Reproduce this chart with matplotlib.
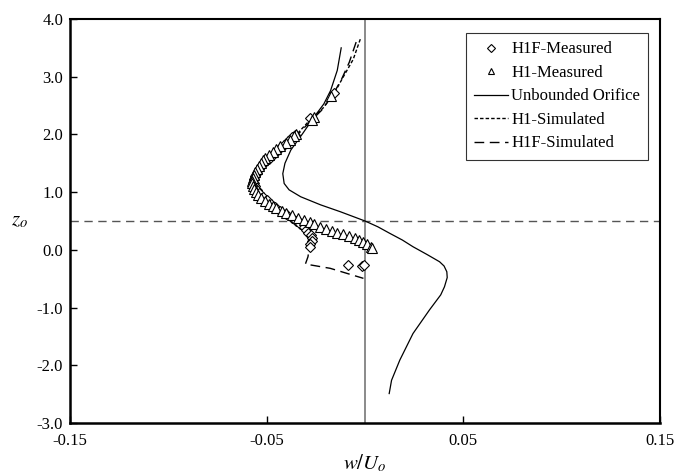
import matplotlib
matplotlib.use("Agg")
import matplotlib.pyplot as plt
from matplotlib.lines import Line2D

plt.rcParams['font.family'] = ['Liberation Serif', 'DejaVu Serif']
plt.rcParams['mathtext.fontset'] = 'stix'

# ---------------- data ----------------
# H1F-Measured (diamonds)
h1f_meas_x = [-0.0157, -0.028, -0.0354, -0.037, -0.039, -0.041, -0.043, -0.045, -0.047,
              -0.049, -0.051, -0.053, -0.054, -0.055, -0.056, -0.0565, -0.0565, -0.056,
              -0.055, -0.054, -0.052, -0.050, -0.048, -0.046, -0.043, -0.040, -0.037,
              -0.035, -0.033, -0.031, -0.030, -0.029, -0.0275, -0.027, -0.027, -0.028,
              -0.028, -0.0084, -0.0017, -0.0005]
h1f_meas_z = [2.71, 2.28, 1.99, 1.95, 1.88, 1.82, 1.76, 1.70, 1.64,
              1.58, 1.52, 1.46, 1.40, 1.34, 1.28, 1.22, 1.16, 1.10,
              1.04, 0.98, 0.92, 0.86, 0.80, 0.74, 0.68, 0.62, 0.56,
              0.50, 0.45, 0.40, 0.35, 0.30, 0.25, 0.20, 0.15, 0.10,
              0.05, -0.26, -0.28, -0.27]

# H1-Measured (triangles)
h1_meas_x = [-0.0175, -0.026, -0.027, -0.035, -0.036, -0.038, -0.040, -0.043, -0.045,
             -0.047, -0.049, -0.051, -0.052, -0.053, -0.054, -0.055, -0.056, -0.0565,
             -0.057, -0.0572, -0.0572, -0.057, -0.0565, -0.0555, -0.0545, -0.053,
             -0.051, -0.049, -0.047, -0.045, -0.042, -0.040, -0.037, -0.034, -0.031,
             -0.028, -0.026, -0.023, -0.020, -0.017, -0.014, -0.011, -0.008, -0.005,
             -0.003, -0.001, 0.001, 0.003, 0.0035]
h1_meas_z = [2.66, 2.31, 2.25, 2.00, 1.97, 1.90, 1.85, 1.80, 1.75,
             1.70, 1.65, 1.60, 1.55, 1.50, 1.45, 1.40, 1.35, 1.30,
             1.25, 1.20, 1.15, 1.10, 1.05, 1.00, 0.95, 0.90,
             0.85, 0.80, 0.76, 0.72, 0.68, 0.64, 0.60, 0.56, 0.52,
             0.48, 0.44, 0.40, 0.36, 0.33, 0.30, 0.27, 0.24, 0.20,
             0.17, 0.14, 0.10, 0.05, 0.03]

# Unbounded Orifice (solid)
unb_x = [-0.0121, -0.0141, -0.0175, -0.0209, -0.0259, -0.0318, -0.0377, -0.0407,
         -0.0418, -0.0411, -0.0386, -0.0327, -0.0226, -0.0125, 0.0, 0.0065, 0.0126,
         0.0190, 0.0244, 0.0315, 0.0379, 0.0402, 0.0416, 0.0418, 0.0404, 0.0385,
         0.0328, 0.0244, 0.0177, 0.0135, 0.0123]
unb_z = [3.50, 3.11, 2.76, 2.53, 2.30, 2.01, 1.73, 1.50,
         1.32, 1.15, 1.04, 0.92, 0.78, 0.66, 0.50, 0.40, 0.286,
         0.17, 0.054, -0.08, -0.206, -0.28, -0.38, -0.48, -0.64, -0.78,
         -1.04, -1.45, -1.91, -2.26, -2.49]

# H1-Simulated (short dashes)
h1_sim_x = [-0.0024, -0.006, -0.011, -0.0157, -0.0215, -0.028, -0.035, -0.042, -0.049,
            -0.054, -0.057, -0.056, -0.052, -0.045, -0.036, -0.028, -0.020, -0.012,
            -0.005, 0.0, 0.002]
h1_sim_z = [3.65, 3.30, 3.00, 2.71, 2.45, 2.25, 1.99, 1.78, 1.58,
            1.40, 1.20, 1.00, 0.85, 0.72, 0.58, 0.47, 0.36, 0.26,
            0.17, 0.10, 0.05]

# H1F-Simulated (long dashes)
h1f_sim_x = [-0.0045, -0.008, -0.012, -0.0165, -0.022, -0.028, -0.035, -0.042, -0.049,
             -0.054, -0.0565, -0.0555, -0.051, -0.045, -0.038, -0.033, -0.029, -0.028,
             -0.029, -0.0303, -0.0177, -0.0008]
h1f_sim_z = [3.60, 3.25, 2.95, 2.68, 2.42, 2.22, 1.97, 1.76, 1.56,
             1.38, 1.18, 0.98, 0.82, 0.70, 0.55, 0.40, 0.25, 0.10,
             -0.12, -0.246, -0.32, -0.494]

xticks = [-0.15, -0.05, 0.05, 0.15]
xtick_labels = ['-0.15', '-0.05', '0.05', '0.15']
yticks = [-3.0, -2.0, -1.0, 0.0, 1.0, 2.0, 3.0, 4.0]
ref_z = 0.5
ref_x = 0.0

# ---------------- figure ----------------
fig = plt.figure(figsize=(6.78, 4.75), dpi=100)
ax = fig.add_axes([0.1032, 0.1095, 0.8703, 0.8505])

ax.axhline(ref_z, color='#555555', lw=1.0, ls=(0, (6, 4)), zorder=1)
ax.axvline(ref_x, color='#777777', lw=1.2, zorder=1)

ax.plot(unb_x, unb_z, color='black', lw=0.9, zorder=2)
ax.plot(h1_sim_x, h1_sim_z, color='black', lw=1.0, ls=(0, (2.5, 1.5)), zorder=2)
ax.plot(h1f_sim_x, h1f_sim_z, color='black', lw=1.0, ls=(0, (7, 4)), zorder=2)

ax.plot(h1f_meas_x, h1f_meas_z, ls='none', marker='D', ms=5.5, mfc='white',
        mec='black', mew=0.8, zorder=3)
ax.plot(h1_meas_x, h1_meas_z, ls='none', marker='^', ms=7, mfc='white',
        mec='black', mew=0.8, zorder=3)

ax.set_xlim(-0.15, 0.15)
ax.set_ylim(-3.0, 4.0)
ax.set_xticks(xticks)
ax.set_xticklabels(xtick_labels)
ax.set_yticks(yticks)
ax.set_yticklabels(['%.1f' % v for v in yticks])
ax.tick_params(direction='in', length=5, width=1.0, labelsize=12,
               top=False, right=False)
ax.tick_params(axis='x', pad=7)
ax.tick_params(axis='y', pad=5)
for side, sp in ax.spines.items():
    sp.set_color('black')
    sp.set_linewidth(1.8 if side in ('left', 'bottom') else 1.5)

ax.set_xlabel('$w/U_o$', fontsize=15, labelpad=3)
ax.set_ylabel('$z_o$', fontsize=15, rotation=0, va='center')
ax.yaxis.set_label_coords(-0.085, 0.5)

handles = [
    Line2D([], [], ls='none', marker='D', ms=4, mfc='white', mec='black', mew=0.8),
    Line2D([], [], ls='none', marker='^', ms=5, mfc='white', mec='black', mew=0.8),
    Line2D([], [], color='black', lw=0.9),
    Line2D([], [], color='black', lw=1.0, ls=(0, (2.5, 1.5))),
    Line2D([], [], color='black', lw=1.0, ls=(0, (7, 4))),
]
labels = ['H1F-Measured', 'H1-Measured', 'Unbounded Orifice', 'H1-Simulated', 'H1F-Simulated']
leg = ax.legend(handles, labels, loc='upper right', bbox_to_anchor=(0.98, 0.965),
                fontsize=12, frameon=True, fancybox=False, edgecolor='black',
                handlelength=2.0, handletextpad=0.2, labelspacing=0.45,
                borderpad=0.5, borderaxespad=0.0)
leg.get_frame().set_linewidth(0.8)

fig.savefig('out.png', dpi=100)
